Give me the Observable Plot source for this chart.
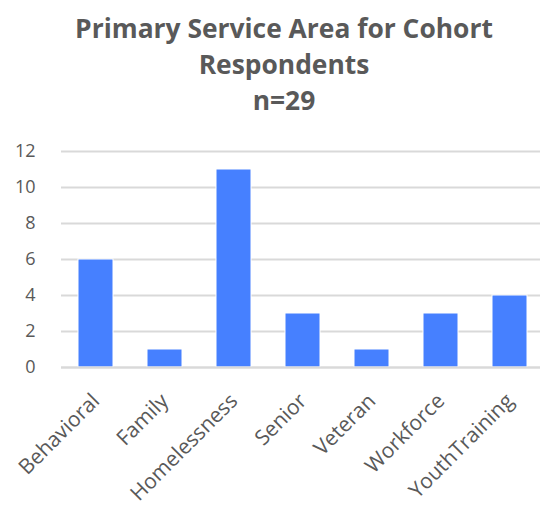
<!DOCTYPE html>
<html><head><meta charset="utf-8">
<script src="https://cdn.jsdelivr.net/npm/d3@7"></script>
<script src="https://cdn.jsdelivr.net/npm/@observablehq/plot@0.6"></script>
<style>
body{margin:0;background:#fff;font-family:"Open Sans",sans-serif;}
#title{width:540px;height:120px;box-sizing:border-box;padding-top:9.5px;padding-left:28px;text-align:center;color:#595959;font-weight:bold;font-size:26.4px;line-height:36px;}
#chart svg g[aria-label="y-axis tick label"]{font-size:18px;}
#chart svg g[aria-label="x-axis tick label"]{font-size:21px;}
</style></head>
<body>
<div id="title">Primary Service Area for Cohort<br>Respondents<br>n=29</div>
<div id="chart"></div>
<script>
const categories = ["Behavioral","Family","Homelessness","Senior","Veteran","Workforce","YouthTraining"];
const counts = [6,1,11,3,1,3,4];
const yTicks = [0,2,4,6,8,10,12];
const data = categories.map((c,i)=>({category:c, count:counts[i]}));
const chart = Plot.plot({
  width:540, height:386,
  marginTop:31, marginBottom:139, marginLeft:61, marginRight:0,
  style:{fontFamily:"Open Sans, sans-serif", color:"#595959", background:"#fff"},
  x:{domain:categories, range:[61,544], paddingInner:0.5, paddingOuter:0.25, label:null},
  y:{domain:[0,12], label:null},
  marks:[
    Plot.gridY(yTicks,{stroke:"#d9d9d9", strokeOpacity:1, strokeWidth:2}),
    Plot.barY(data,{x:"category", y:"count", fill:"#4680ff", stroke:"#ffffff", strokeWidth:1}),
    Plot.ruleY([0],{stroke:"#d9d9d9", strokeWidth:2}),
    Plot.axisY(yTicks,{tickSize:0, tickPadding:26, label:null}),
    Plot.axisX({tickSize:0, tickRotate:-45, tickPadding:30, label:null})
  ]
});
document.getElementById("chart").appendChild(chart);
</script>
</body></html>
